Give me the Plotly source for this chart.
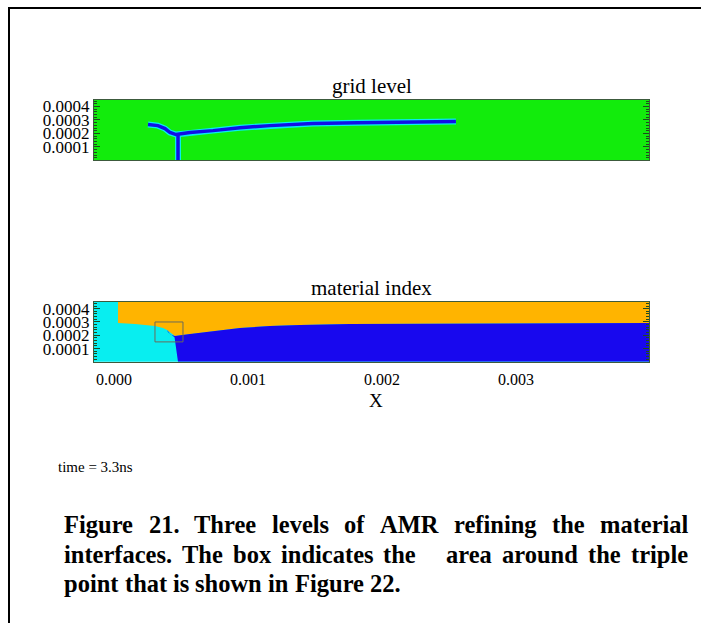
import plotly.graph_objects as go

W, H = 701, 623

# ---------------- data ----------------
x_ticks = [0.0, 0.001, 0.002, 0.003]
x_tick_labels = ["0.000", "0.001", "0.002", "0.003"]
y_ticks = [0.0001, 0.0002, 0.0003, 0.0004]
y_tick_labels = ["0.0001", "0.0002", "0.0003", "0.0004"]
x_range = [-0.000149, 0.003993]
y_range = [0.0, 0.00045]

# grid level panel: refined-cell band along the interfaces
grid_front_x = [0.000254, 0.000328, 0.000381, 0.000418, 0.000463, 0.000567,
                0.000739, 0.00094, 0.001164, 0.001485, 0.00182, 0.002552]
grid_front_y = [0.000266, 0.000258, 0.000236, 0.000207, 0.000192, 0.000207,
                0.000221, 0.000243, 0.000258, 0.000273, 0.00028, 0.000288]
grid_shock_x = [0.000478, 0.000478]
grid_shock_y = [0.0, 0.000192]

# material index panel
# cyan / orange interface (from top edge down to triple point)
cyan_orange_x = [0.00003, 0.00003, 0.000157, 0.000306, 0.000366, 0.000396]
cyan_orange_y = [0.00045, 0.000293, 0.000285, 0.00027, 0.000255, 0.00024]
# small blue notch at the triple point (orange side, then cyan side)
notch_x = [0.000396, 0.000403, 0.000425, 0.000455]
notch_y = [0.00024, 0.000225, 0.000203, 0.000195]
notch_return_x = [0.000452, 0.000418, 0.000396]
notch_return_y = [0.000185, 0.000212, 0.00024]
# orange / blue interface (triple point to right edge)
orange_blue_x = [0.000455, 0.000567, 0.000754, 0.00094, 0.001164, 0.001388,
                 0.001761, 0.002507, 0.003993]
orange_blue_y = [0.000195, 0.00021, 0.000233, 0.000255, 0.00027, 0.000278,
                 0.000285, 0.000289, 0.000293]
# cyan / blue interface (shock), bottom point
shock_bottom_x = [0.000478]
shock_bottom_y = [0.0]
# box around the triple point
box_x = [0.000306, 0.000515]
box_y = [0.00015, 0.0003]

GREEN = "#12ec0c"
CYAN = "#08eef0"
ORANGE = "#ffb400"
BLUE = "#1808ee"
LINEBLUE = "#1010e8"
TICK = "#1f4a1f"
SERIF = "Liberation Serif, Times New Roman, serif"


def px(x):
    return x / W


def py(y):
    return 1 - y / H


fig = go.Figure()

# ---- top panel traces ----
for xs, ys in [(grid_front_x, grid_front_y), (grid_shock_x, grid_shock_y)]:
    fig.add_trace(go.Scatter(x=xs, y=ys, mode="lines", xaxis="x", yaxis="y",
                             line=dict(color=CYAN, width=6), hoverinfo="skip",
                             showlegend=False))
for xs, ys in [(grid_front_x, grid_front_y), (grid_shock_x, grid_shock_y)]:
    fig.add_trace(go.Scatter(x=xs, y=ys, mode="lines", xaxis="x", yaxis="y",
                             line=dict(color=LINEBLUE, width=3.5), hoverinfo="skip",
                             showlegend=False))

# ---- bottom panel polygons ----
orange_x = cyan_orange_x + orange_blue_x + [x_range[1], cyan_orange_x[0]]
orange_y = cyan_orange_y + orange_blue_y + [y_range[1], y_range[1]]
fig.add_trace(go.Scatter(x=orange_x, y=orange_y, mode="lines", fill="toself",
                         fillcolor=ORANGE, line=dict(width=0, color=ORANGE),
                         xaxis="x2", yaxis="y2", hoverinfo="skip", showlegend=False))

blue_x = notch_x + orange_blue_x[1:] + [x_range[1]] + shock_bottom_x + notch_return_x
blue_y = notch_y + orange_blue_y[1:] + [y_range[0]] + shock_bottom_y + notch_return_y
fig.add_trace(go.Scatter(x=blue_x, y=blue_y, mode="lines", fill="toself",
                         fillcolor=BLUE, line=dict(width=0, color=BLUE),
                         xaxis="x2", yaxis="y2", hoverinfo="skip", showlegend=False))

# ---- axes ----
xdom = [px(94), px(649)]
ydom_top = [py(159), py(98)]
ydom_bot = [py(361), py(301)]

common_y = dict(range=y_range, tickvals=y_ticks, ticktext=y_tick_labels,
                ticks="inside", ticklen=6, tickwidth=1, tickcolor=TICK,
                minor=dict(ticks="inside", ticklen=3, dtick=0.00002, tick0=0,
                           tickcolor=TICK, showgrid=False),
                showline=True, linecolor="#3c5a3c", linewidth=1, mirror="ticks",
                showgrid=False, zeroline=False, fixedrange=True,
                tickfont=dict(family=SERIF, size=17, color="black"))
common_x = dict(range=x_range, showgrid=False, zeroline=False, showline=True,
                linecolor="#3c5a3c", linewidth=1, mirror=True, ticks="",
                fixedrange=True)

fig.update_layout(
    width=W, height=H,
    margin=dict(l=0, r=0, t=0, b=0),
    paper_bgcolor="white", plot_bgcolor="white",
    showlegend=False,
    xaxis=dict(domain=xdom, anchor="y", showticklabels=False, **common_x),
    yaxis=dict(domain=ydom_top, anchor="x", **common_y),
    xaxis2=dict(domain=xdom, anchor="y2", showticklabels=True, tickvals=x_ticks,
                ticktext=x_tick_labels, ticklabelstandoff=3,
                tickfont=dict(family=SERIF, size=16, color="black"), **common_x),
    yaxis2=dict(domain=ydom_bot, anchor="x2", **common_y),
)

# backgrounds
fig.add_shape(type="rect", xref="x domain", yref="y domain", x0=0, x1=1, y0=0, y1=1,
              fillcolor=GREEN, line=dict(width=0), layer="below")
fig.add_shape(type="rect", xref="x2 domain", yref="y2 domain", x0=0, x1=1, y0=0, y1=1,
              fillcolor=CYAN, line=dict(width=0), layer="below")
# triple-point box
fig.add_shape(type="rect", xref="x2", yref="y2", x0=box_x[0], x1=box_x[1],
              y0=box_y[0], y1=box_y[1], line=dict(color="#6a6a5a", width=1),
              fillcolor="rgba(0,0,0,0)", layer="above")

# frame lines (page border)
fig.add_shape(type="line", xref="paper", yref="paper", x0=px(8), x1=1,
              y0=py(6), y1=py(6), line=dict(color="black", width=2))
fig.add_shape(type="line", xref="paper", yref="paper", x0=px(9), x1=px(9),
              y0=0, y1=py(6), line=dict(color="black", width=2))

ann = []
ann.append(dict(text="grid level", x=px(371.5), y=py(84), font=dict(family=SERIF, size=21)))
ann.append(dict(text="material index", x=px(371.5), y=py(287), font=dict(family=SERIF, size=21)))
ann.append(dict(text="X", x=px(376), y=py(400), font=dict(family=SERIF, size=19)))
ann.append(dict(text="time = 3.3ns", x=px(56), y=py(466), xanchor="left",
                font=dict(family=SERIF, size=15)))

# caption (justified by placing words)
widths = {" ": 250, ".": 250, "0": 500, "1": 500, "2": 500, "A": 722, "F": 611,
          "M": 944, "R": 722, "T": 667, "a": 500, "b": 556, "c": 444, "d": 556,
          "e": 444, "f": 333, "g": 500, "h": 556, "i": 278, "l": 278, "m": 833,
          "n": 556, "o": 500, "p": 556, "r": 444, "s": 389, "t": 333, "u": 556,
          "v": 500, "w": 722, "x": 500, "y": 500}
CAP_SIZE = 24.5
X0, X1 = 62, 686


def wlen(word):
    return sum(widths.get(c, 500) for c in word) * CAP_SIZE / 1000


caption_lines = [
    ("Figure 21. Three levels of AMR refining the material", True, 524),
    ("interfaces. The box indicates the   area around the triple", True, 554),
    ("point that is shown in Figure 22.", False, 583),
]
for text, justify, yline in caption_lines:
    words = [w for w in text.split(" ") if w]
    parts = text.split(" ")
    gaps = []
    cnt = 0
    for p in parts[1:]:
        cnt += 1
        if p:
            gaps.append(cnt)
            cnt = 0
    total_w = sum(wlen(w) for w in words)
    if justify:
        unit = (X1 - X0 - total_w) / sum(gaps)
    else:
        unit = widths[" "] * CAP_SIZE / 1000
    xpos = X0
    for i, w in enumerate(words):
        ann.append(dict(text=w, x=px(xpos), y=py(yline), xanchor="left",
                        font=dict(family=SERIF, size=CAP_SIZE, color="black"),
                        bold=True))
        xpos += wlen(w)
        if i < len(gaps):
            xpos += unit * gaps[i]

for a in ann:
    bold = a.pop("bold", False)
    if bold:
        a["text"] = "<b>" + a["text"] + "</b>"
    a.setdefault("xanchor", "center")
    a.setdefault("yanchor", "middle")
    a["font"].setdefault("color", "black")
    fig.add_annotation(xref="paper", yref="paper", showarrow=False, **a)

fig.write_html("out.html", config={"displayModeBar": False},
               post_script="document.body.style.margin='0';document.body.style.overflow='hidden';")
